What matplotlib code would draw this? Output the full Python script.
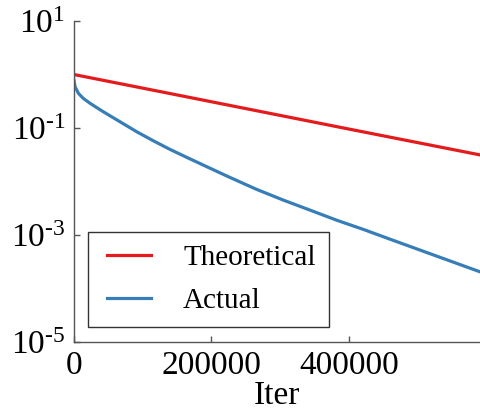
import matplotlib
matplotlib.use("Agg")
import matplotlib.pyplot as plt
from matplotlib.legend_handler import HandlerLine2D

plt.rcParams["font.family"] = ["Liberation Serif", "DejaVu Serif"]
plt.rcParams["mathtext.fontset"] = "custom"
plt.rcParams["mathtext.rm"] = "Liberation Serif"
plt.rcParams["mathtext.it"] = "Liberation Serif:italic"

# values
theory_iter = [0, 140000, 390000, 592000]
theory_err = [1.0, 0.44, 0.101, 0.031]

actual_iter = [0, 2200, 7000, 14200, 24000, 43300, 67600, 91900, 116000,
               140300, 164500, 188700, 212900, 227500, 266300, 305000,
               343800, 382600, 421200, 455200, 522500, 592000]
actual_err = [0.85, 0.589, 0.443, 0.356, 0.288, 0.200, 0.130, 0.0845,
              0.0573, 0.0395, 0.0281, 0.0201, 0.0144, 0.0118, 0.00705,
              0.00445, 0.00289, 0.00187, 0.00126, 0.00087, 0.000422, 0.0002]

y_ticks = [1e1, 1e-1, 1e-3, 1e-5]
y_labels = [r"$10^{1}$", r"$10^{\text{-}1}$", r"$10^{\text{-}3}$", r"$10^{\text{-}5}$"]
x_ticks = [0, 200000, 400000]

fig = plt.figure(figsize=(4.81, 4.12), dpi=100)
ax = fig.add_axes([0.153, 0.1706, 0.847, 0.7784])

ax.plot(theory_iter, theory_err, color="#e41a1c", lw=2.3, label="Theoretical")
ax.plot(actual_iter, actual_err, color="#377eb8", lw=2.3, label="Actual")

ax.set_yscale("log")
ax.set_ylim(1e-5, 1e1)
ax.set_xlim(0, 592000)
ax.set_yticks(y_ticks)
ax.set_yticklabels(y_labels)
ax.set_xticks(x_ticks)
ax.set_xticklabels([str(t) for t in x_ticks])
ax.minorticks_off()

for side in ("top", "right"):
    ax.spines[side].set_visible(False)
for side in ("left", "bottom"):
    ax.spines[side].set_color("#555555")
    ax.spines[side].set_linewidth(1.0)

ax.tick_params(direction="in", length=4, width=1, color="#555555",
               labelsize=24, pad=6)
ax.set_xlabel("Iter", fontsize=24, labelpad=0)

leg = ax.legend(loc="lower left", bbox_to_anchor=(0.036, 0.046),
                borderaxespad=0, fontsize=21, frameon=True, fancybox=False,
                handlelength=1.7, handletextpad=1.1, labelspacing=0.55,
                borderpad=0.45,
                handler_map={plt.Line2D: HandlerLine2D(xpad=0.2)})
leg.get_frame().set_edgecolor("black")
leg.get_frame().set_linewidth(1.0)

fig.savefig("out.png", dpi=100)
